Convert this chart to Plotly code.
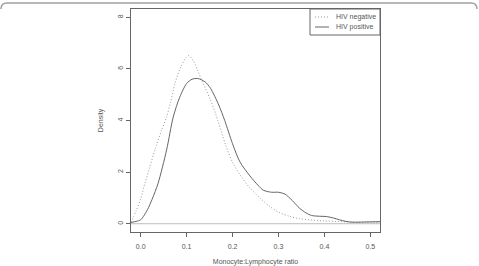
import plotly.graph_objects as go

# HIV negative (dotted) density curve
neg_x = [-0.021, -0.01, 0.0, 0.0093, 0.02, 0.031, 0.045, 0.0565, 0.065, 0.0746, 0.088, 0.1035,
         0.115, 0.125, 0.136, 0.152, 0.169, 0.185, 0.201, 0.22, 0.238, 0.26, 0.281, 0.3, 0.325,
         0.345, 0.368, 0.4, 0.426, 0.46, 0.49, 0.521]
neg_y = [0.05, 0.5, 0.95, 1.57, 2.2, 2.86, 3.6, 4.14, 4.7, 5.43, 6.1, 6.52,
         6.3, 5.9, 5.43, 4.8, 3.95, 3.05, 2.34, 1.8, 1.38, 1.0, 0.67, 0.45, 0.28,
         0.2, 0.15, 0.11, 0.09, 0.06, 0.05, 0.05]

# HIV positive (solid) density curve
pos_x = [-0.021, -0.01, 0.0, 0.006, 0.015, 0.025, 0.038, 0.0565, 0.071, 0.085, 0.1, 0.112,
         0.124, 0.14, 0.152, 0.17, 0.183, 0.2, 0.216, 0.238, 0.255, 0.267, 0.285, 0.3, 0.314,
         0.33, 0.346, 0.36, 0.372, 0.39, 0.404, 0.42, 0.433, 0.447, 0.462, 0.49, 0.521]
pos_y = [0.05, 0.09, 0.15, 0.28, 0.55, 0.95, 1.57, 2.86, 4.14, 4.9, 5.43, 5.6,
         5.63, 5.5, 5.25, 4.6, 4.0, 3.1, 2.4, 1.85, 1.5, 1.3, 1.22, 1.22, 1.15,
         0.9, 0.6, 0.42, 0.32, 0.29, 0.28, 0.22, 0.15, 0.09, 0.06, 0.07, 0.08]

series_names = ["HIV negative", "HIV positive"]
x_ticks = [0.0, 0.1, 0.2, 0.3, 0.4, 0.5]
x_ticklabels = ["0.0", "0.1", "0.2", "0.3", "0.4", "0.5"]
y_ticks = [0, 2, 4, 6, 8]
y_ticklabels = ["0", "2", "4", "6", "8"]

FONT = "Liberation Sans, Arial, Helvetica, sans-serif"
TXT = "#555555"
AX = "#666666"
NEG_COLOR = "#999999"
POS_COLOR = "#666666"
NEG_DASH = "1px,2px"

fig = go.Figure()
fig.add_trace(go.Scatter(x=neg_x, y=neg_y, mode="lines", name=series_names[0], showlegend=False,
                         line=dict(color=NEG_COLOR, width=1, dash=NEG_DASH, shape="spline", smoothing=0.8)))
fig.add_trace(go.Scatter(x=pos_x, y=pos_y, mode="lines", name=series_names[1], showlegend=False,
                         line=dict(color=POS_COLOR, width=1, shape="spline", smoothing=0.8)))

W, H = 479, 266
ml, mr, mt, mb = 131, 99, 9, 34
pw, ph = W - ml - mr, H - mt - mb

def px(xp):
    return (xp - ml) / pw

def py(yp):
    return (H - mb - yp) / ph

frame = (f"M {px(1)},{py(9)} Q {px(1)},{py(3)} {px(7)},{py(3)} "
         f"L {px(471)},{py(3)} Q {px(477)},{py(3)} {px(477)},{py(9)}")

shapes = [
    dict(type="line", xref="paper", yref="y", x0=0, x1=1, y0=0, y1=0,
         line=dict(color="#bbbbbb", width=1), layer="below"),
    dict(type="path", xref="paper", yref="paper", path=frame,
         line=dict(color="#a0a0a0", width=1.5)),
    # legend box
    dict(type="rect", xref="paper", yref="paper", x0=px(310), x1=1, y0=py(35), y1=1,
         line=dict(color=AX, width=1), fillcolor="white"),
    dict(type="line", xref="paper", yref="paper", x0=px(315), x1=px(329), y0=py(17), y1=py(17),
         line=dict(color=NEG_COLOR, width=1, dash=NEG_DASH)),
    dict(type="line", xref="paper", yref="paper", x0=px(315), x1=px(329), y0=py(27), y1=py(27),
         line=dict(color=POS_COLOR, width=1)),
]
annotations = [
    dict(text=series_names[0], xref="paper", yref="paper", x=px(334), y=py(17),
         xanchor="left", yanchor="middle", showarrow=False, font=dict(size=7, color=TXT)),
    dict(text=series_names[1], xref="paper", yref="paper", x=px(334), y=py(27),
         xanchor="left", yanchor="middle", showarrow=False, font=dict(size=7, color=TXT)),
]

fig.update_layout(
    width=W, height=H,
    margin=dict(l=ml, r=mr, t=mt, b=mb),
    paper_bgcolor="white", plot_bgcolor="white",
    font=dict(family=FONT, size=7, color=TXT),
    showlegend=False,
    xaxis=dict(range=[-0.021, 0.521], tickvals=x_ticks, ticktext=x_ticklabels, automargin=False,
               showgrid=False, zeroline=False, showline=True, linecolor=AX, linewidth=1,
               mirror=True, ticks="outside", ticklen=4, tickcolor=AX, ticklabelstandoff=4,
               tickfont=dict(size=7, color=TXT),
               title=dict(text="Monocyte:Lymphocyte ratio", font=dict(size=7, color=TXT), standoff=9)),
    yaxis=dict(range=[-0.32, 8.32], tickvals=y_ticks, ticktext=y_ticklabels, automargin=False,
               showgrid=False, zeroline=False, showline=True, linecolor=AX, linewidth=1,
               mirror=True, ticks="outside", ticklen=4, tickcolor=AX, tickangle=-90,
               tickfont=dict(size=7, color=TXT),
               title=dict(text="Density", font=dict(size=7, color=TXT), standoff=12)),
    shapes=shapes,
    annotations=annotations,
)

fig.write_html("out.html")
